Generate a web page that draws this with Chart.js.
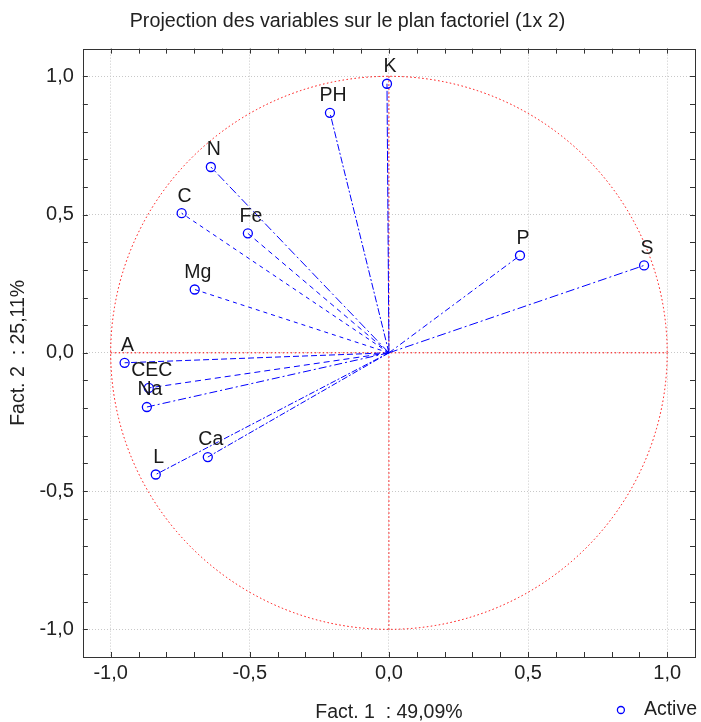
<!DOCTYPE html>
<html>
<head>
<meta charset="utf-8">
<script src="https://cdn.jsdelivr.net/npm/chart.js@4.4.1/dist/chart.umd.min.js"></script>
<style>
  body { margin: 0; background: #fff; }
  #wrap { width: 701px; height: 722px; }
</style>
</head>
<body>
<div id="wrap"><canvas id="plan" width="701" height="722"></canvas></div>
<script>
// variables et coordonnees sur les deux premiers facteurs
const varNames = ['K', 'PH', 'N', 'C', 'Fe', 'Mg', 'P', 'S', 'A', 'CEC', 'Na', 'Ca', 'L'];
const fact1 = [-0.007, -0.212, -0.640, -0.745, -0.507, -0.698, 0.471, 0.917, -0.950, -0.863, -0.870, -0.651, -0.838];
const fact2 = [0.973, 0.868, 0.672, 0.505, 0.432, 0.229, 0.352, 0.316, -0.036, -0.127, -0.196, -0.377, -0.440];

const axisTicks = [-1, -0.5, 0, 0.5, 1];
const axisTickLabels = ['-1,0', '-0,5', '0,0', '0,5', '1,0'];

const titleText = 'Projection des variables sur le plan factoriel (1x 2)';
const xTitle = 'Fact. 1  : 49,09%';
const yTitle = 'Fact. 2  : 25,11%';
const legendLabel = 'Active';

// style des traits (un motif par variable)
const dashes = {
    K: [10, 2], PH: [7, 2, 2, 2], N: [9, 3, 2, 3], C: [4, 4], Fe: [5, 4], Mg: [4, 4],
    P: [6, 3, 2, 3], S: [9, 3, 2, 3], A: [6, 3], CEC: [6, 4], Na: [8, 3, 2, 3],
    Ca: [6, 2, 2, 2], L: [6, 2, 2, 2]
};

Chart.defaults.font.family = "'Liberation Sans', Arial, sans-serif";
Chart.defaults.color = '#222';

const blue = '#0000ff';
const labelFont = "19.5px 'Liberation Sans', Arial, sans-serif";

let datasets = [];
for (let i = 0; i < varNames.length; i++) {
    datasets.push({
        label: varNames[i],
        data: [{x: 0, y: 0}, {x: fact1[i], y: fact2[i]}],
        showLine: true,
        borderColor: blue,
        borderWidth: 1,
        borderDash: dashes[varNames[i]],
        pointRadius: 0,
        fill: false
    });
}
datasets.push({
    label: legendLabel,
    data: fact1.map((v, i) => ({x: v, y: fact2[i]})),
    showLine: false,
    pointStyle: 'circle',
    pointRadius: 4.5,
    pointBorderWidth: 1.3,
    pointBorderColor: blue,
    pointBackgroundColor: 'rgba(255,255,255,0)'
});

function tickLabel(value) {
    let k = axisTicks.indexOf(value);
    return k >= 0 ? axisTickLabels[k] : '';
}

const pcaDecor = {
    id: 'pcaDecor',
    beforeDatasetsDraw(chart) {
        const {ctx, scales: {x, y}} = chart;
        const cx = x.getPixelForValue(0), cy = y.getPixelForValue(0);
        const rx = x.getPixelForValue(1) - cx, ry = cy - y.getPixelForValue(1);
        ctx.save();
        ctx.strokeStyle = '#ff0000';
        ctx.lineWidth = 1;
        ctx.setLineDash([1.5, 2.5]);
        ctx.beginPath();
        ctx.ellipse(cx, cy, rx, ry, 0, 0, Math.PI * 2);
        ctx.stroke();
        ctx.beginPath();
        ctx.moveTo(cx - rx, cy); ctx.lineTo(cx + rx, cy);
        ctx.moveTo(cx, cy - ry); ctx.lineTo(cx, cy + ry);
        ctx.stroke();
        ctx.restore();
    },
    afterDatasetsDraw(chart) {
        const {ctx, scales: {x, y}} = chart;
        ctx.save();
        ctx.fillStyle = '#1a1a1a';
        ctx.font = labelFont;
        ctx.textAlign = 'center';
        ctx.textBaseline = 'middle';
        for (let i = 0; i < varNames.length; i++) {
            ctx.fillText(varNames[i], x.getPixelForValue(fact1[i]) + 3, y.getPixelForValue(fact2[i]) - 17);
        }
        ctx.restore();
    },
    afterDraw(chart) {
        const {ctx, chartArea: a, scales: {x, y}} = chart;
        ctx.save();
        ctx.strokeStyle = '#333';
        ctx.lineWidth = 1;
        ctx.setLineDash([]);
        ctx.strokeRect(Math.round(a.left) + 0.5, Math.round(a.top) + 0.5,
            Math.round(a.right - a.left), Math.round(a.bottom - a.top));
        // petites graduations tous les 0,1
        ctx.beginPath();
        for (let k = -10; k <= 10; k++) {
            let px = Math.round(x.getPixelForValue(k / 10)) + 0.5;
            let py = Math.round(y.getPixelForValue(k / 10)) + 0.5;
            ctx.moveTo(px, a.bottom); ctx.lineTo(px, a.bottom - 5);
            ctx.moveTo(px, a.top); ctx.lineTo(px, a.top + 5);
            ctx.moveTo(a.left, py); ctx.lineTo(a.left + 5, py);
            ctx.moveTo(a.right, py); ctx.lineTo(a.right - 5, py);
        }
        ctx.stroke();
        // legende
        ctx.font = labelFont;
        ctx.fillStyle = '#222';
        ctx.textAlign = 'right';
        ctx.textBaseline = 'middle';
        let tx = chart.width - 4, ty = chart.height - 12;
        ctx.fillText(legendLabel, tx, ty);
        let w = ctx.measureText(legendLabel).width;
        ctx.strokeStyle = blue;
        ctx.lineWidth = 1.3;
        ctx.beginPath();
        ctx.arc(tx - w - 23, ty, 3.5, 0, Math.PI * 2);
        ctx.stroke();
        ctx.restore();
    }
};

new Chart(document.getElementById('plan'), {
    type: 'scatter',
    data: {datasets: datasets},
    options: {
        responsive: false,
        animation: false,
        layout: {padding: {left: 0, right: 6, top: 0, bottom: 0}},
        plugins: {
            legend: {display: false},
            tooltip: {enabled: false},
            title: {
                display: true,
                text: titleText,
                font: {size: 19.7, weight: 'normal'},
                color: '#222',
                padding: {top: 10, bottom: 15}
            }
        },
        scales: {
            x: {
                type: 'linear',
                min: -1.1,
                max: 1.1,
                afterBuildTicks: s => { s.ticks = axisTicks.map(v => ({value: v})); },
                ticks: {callback: v => tickLabel(v), padding: 4, font: {size: 20}, color: '#222', maxRotation: 0, autoSkip: false},
                grid: {color: '#c8c8c8', lineWidth: 1, drawTicks: false},
                border: {display: false, dash: [1, 2]},
                title: {display: true, text: xTitle, font: {size: 19.5, lineHeight: 1}, color: '#222', padding: {top: 13.5, bottom: 0}}
            },
            y: {
                type: 'linear',
                min: -1.1,
                max: 1.1,
                afterBuildTicks: s => { s.ticks = axisTicks.map(v => ({value: v})); },
                ticks: {callback: v => tickLabel(v), padding: 9, font: {size: 20}, color: '#222', autoSkip: false},
                grid: {color: '#c8c8c8', lineWidth: 1, drawTicks: false},
                border: {display: false, dash: [1, 2]},
                title: {display: true, text: yTitle, font: {size: 19.5}, color: '#222', padding: {top: 7, bottom: 0}}
            }
        }
    },
    plugins: [pcaDecor]
});
</script>
</body>
</html>
